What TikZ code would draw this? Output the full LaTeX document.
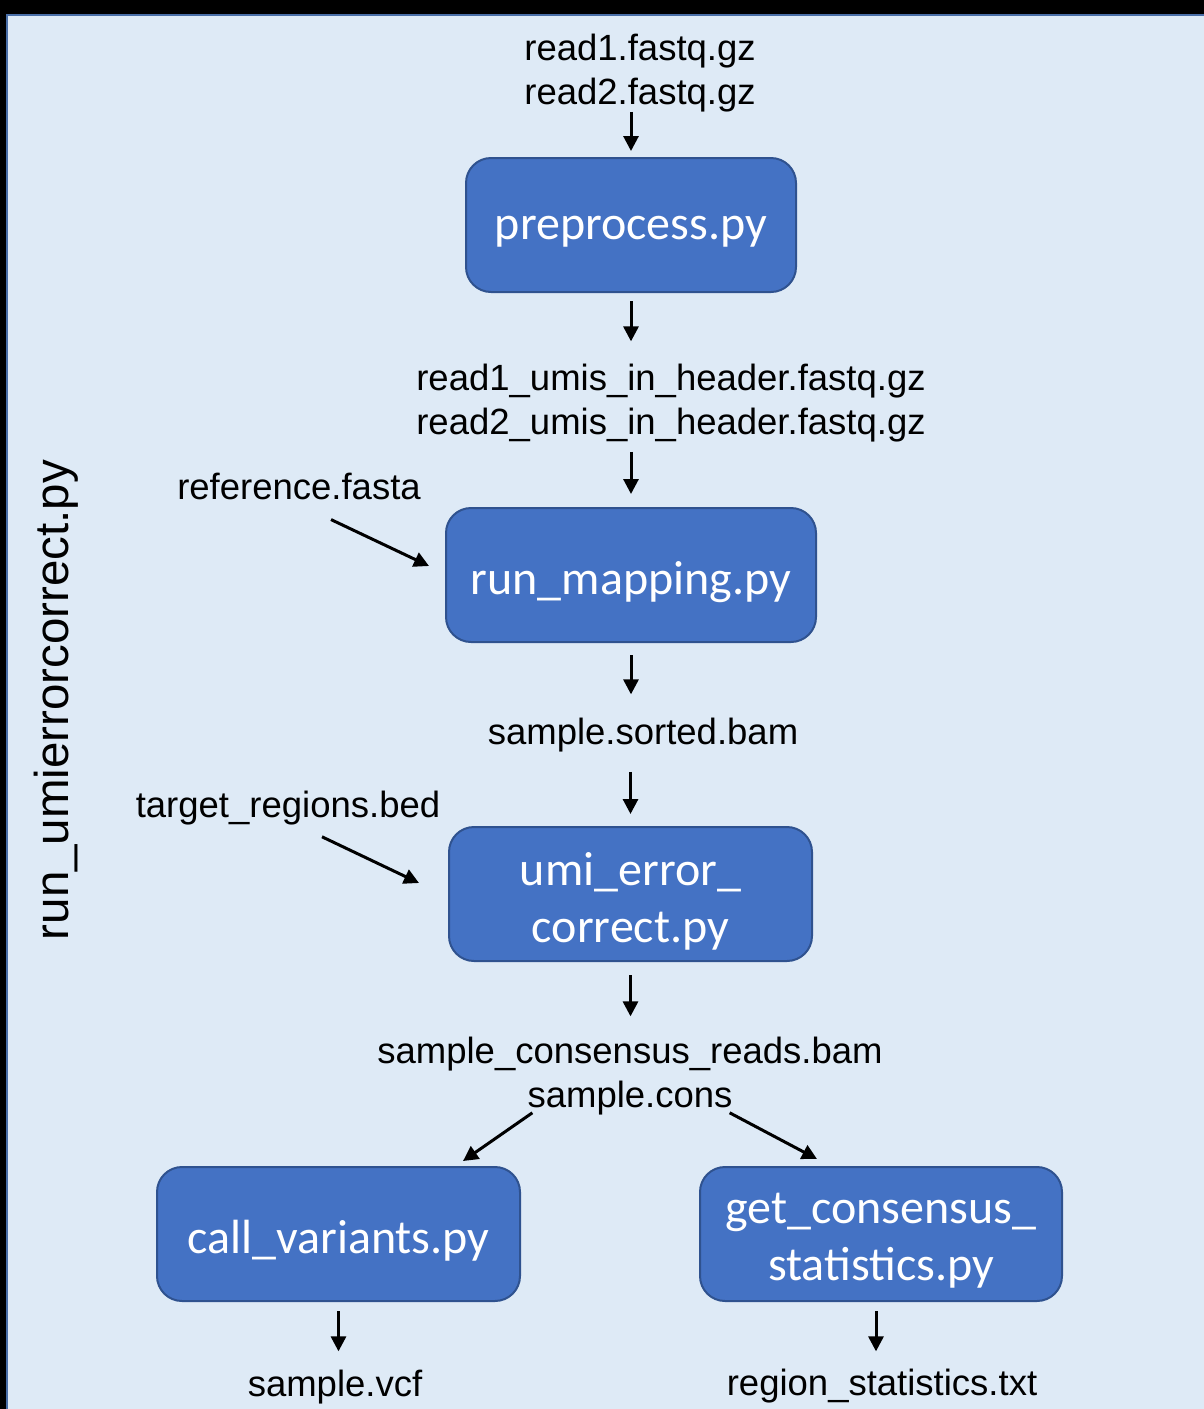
\documentclass[tikz,border=0pt]{standalone}
\usepackage{fontspec}
\setmainfont{Liberation Sans}
\newfontfamily\boxfont{Carlito}
\usetikzlibrary{arrows.meta}

\definecolor{pagebg}{HTML}{DEEAF6}
\definecolor{frameline}{HTML}{4A6FA8}
\definecolor{boxblue}{HTML}{4472C4}
\definecolor{boxedge}{HTML}{2F528F}

\begin{document}
\begin{tikzpicture}[x=1pt,y=-1pt,
  lbl/.style={inner sep=0pt, anchor=base, font=\fontsize{36.5}{44}\selectfont},
  proc/.style={draw=boxedge, fill=boxblue, line width=2pt, rounded corners=25pt,
    minimum height=134pt, inner sep=0pt},
  proctext/.style={text=white, align=center, inner sep=0pt, yshift=-7pt,
    font=\boxfont\fontsize{48}{57}\selectfont},
  arr/.style={line width=3pt, -{Triangle[length=15pt,width=15pt]}}]

% frame and background
\useasboundingbox (0,0) rectangle (1204,1409);
\fill[black] (0,0) rectangle (1204,1409);
\fill[pagebg] (7,15) rectangle (1204,1409);
\draw[frameline, line width=2pt] (7,1409) -- (7,15) -- (1204,15);

% side title
\node[rotate=90, inner sep=0pt, font=\fontsize{47.5}{57}\selectfont] (title) at (56,700) {run\_umierrorcorrect.py};

% process boxes (text set as a centred label, slightly below the middle)
\node[proc, minimum width=330pt, label={[proctext]center:preprocess.py}] (pre) at (631,225) {};
\node[proc, minimum width=370pt, label={[proctext]center:run\_mapping.py}] (map) at (631,575) {};
\node[proc, minimum width=363pt, label={[proctext]center:umi\_error\_\\correct.py}] (umi) at (630.5,894) {};
\node[proc, minimum width=363pt, label={[proctext]center:call\_variants.py}] (var) at (338.5,1234) {};
\node[proc, minimum width=362pt, label={[proctext]center:get\_consensus\_\\statistics.py}] (get) at (881,1234) {};

% file labels
\node[lbl] (in1) at (640,60) {read1.fastq.gz};
\node[lbl] (in2) at (640,104) {read2.fastq.gz};
\node[lbl] (umis1) at (671,390) {read1\_umis\_in\_header.fastq.gz};
\node[lbl] (umis2) at (671,434) {read2\_umis\_in\_header.fastq.gz};
\node[lbl] (ref) at (299,499) {reference.fasta};
\node[lbl] (sorted) at (643,744) {sample.sorted.bam};
\node[lbl] (tgt) at (288,817) {target\_regions.bed};
\node[lbl] (cons1) at (630,1063) {sample\_consensus\_reads.bam};
\node[lbl] (cons2) at (630,1107) {sample.cons};
\node[lbl] (vcf) at (335,1396) {sample.vcf};
\node[lbl] (stats) at (882,1395) {region\_statistics.txt};

% connectors
\draw[arr, shorten >=6pt] (pre.north |- in2.south) -- (pre.north);
\draw[arr, shorten <=8pt, shorten >=22pt] (pre.south) -- (pre.south |- umis1.north);
\draw[arr, shorten <=10pt, shorten >=13pt] (map.north |- umis2.south) -- (map.north);
\draw[arr] ([shift={(32,20)}]ref.south) -- ([shift={(-16,-9)}]map.west);
\draw[arr, shorten <=12pt, shorten >=23pt] (map.south) -- (map.south |- sorted.north);
\draw[arr, shorten <=20pt, shorten >=12pt] (umi.north |- sorted.south) -- (umi.north);
\draw[arr] ([shift={(34,12)}]tgt.south) -- ([shift={(-29,-11)}]umi.west);
\draw[arr, shorten <=13pt, shorten >=20pt] (umi.south) -- (umi.south |- cons1.north);
\draw[arr] ([shift={(5,-2)}]cons2.south west) -- ([shift={(-58,-5)}]var.north east);
\draw[arr] ([shift={(-3,-2)}]cons2.south east) -- ([shift={(118,-7)}]get.north west);
\draw[arr, shorten <=9pt, shorten >=18pt] (var.south) -- (var.south |- vcf.north);
\draw[arr, shorten <=9pt, shorten >=17pt] ([xshift=-5pt]get.south) -- ([xshift=-5pt]get.south |- stats.north);
\end{tikzpicture}
\end{document}
